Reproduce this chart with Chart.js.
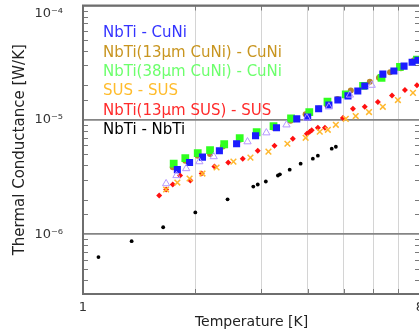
<!DOCTYPE html>
<html><head><meta charset="utf-8">
<script src="https://cdn.jsdelivr.net/npm/chart.js@4"></script>
<style>
html,body{margin:0;padding:0;overflow:hidden;background:#fff;width:419px;height:333px}
#wrap{position:relative;width:440px;height:333px}
</style></head>
<body><div id="wrap"><canvas id="c" width="440" height="333"></canvas></div>
<script>
// ---- data (Temperature [K], Thermal Conductance [W/K]) ----
const legendNames = ["NbTi - CuNi","NbTi(13\u03bcm CuNi) - CuNi","NbTi(38\u03bcm CuNi) - CuNi","SUS - SUS","NbTi(13\u03bcm SUS) - SUS","NbTi - NbTi"];
const legendColors = ["#3434ff","#c8951f","#6cff6c","#ffbc2c","#ff2a2a","#000000"];

const cuniT = [1.79,1.93,2.09,2.32,2.58,2.90,3.30,3.74,4.00,4.28,4.56,4.82,5.13,5.45,5.69,6.36,6.81,7.25,7.62,7.90];
const cuniG = [3.67e-6,4.23e-6,4.72e-6,5.37e-6,6.18e-6,7.26e-6,8.52e-6,1.02e-5,1.06e-5,1.25e-5,1.35e-5,1.49e-5,1.62e-5,1.79e-5,1.98e-5,2.51e-5,2.67e-5,2.95e-5,3.19e-5,3.32e-5];

const cuni13T = [1.74,1.88,2.03,2.19,2.37,2.63,2.92,3.24,3.60,3.95,4.29,4.51,4.81,5.22,5.87,6.21,6.65,7.11,7.71];
const cuni13G = [3.86e-6,4.40e-6,4.86e-6,5.03e-6,5.86e-6,6.70e-6,7.55e-6,8.52e-6,9.80e-6,1.12e-5,1.26e-5,1.35e-5,1.52e-5,1.81e-5,2.15e-5,2.34e-5,2.61e-5,2.83e-5,3.32e-5];

const cuni38T = [1.75,1.88,2.03,2.19,2.39,2.63,2.92,3.24,3.61,4.04,4.52,5.06,5.63,6.31,7.07,7.85];
const cuni38G = [4.14e-6,4.63e-6,5.11e-6,5.43e-6,6.12e-6,6.93e-6,7.79e-6,8.81e-6,1.03e-5,1.17e-5,1.44e-5,1.67e-5,1.98e-5,2.33e-5,2.90e-5,3.37e-5];

const susT = [1.67,1.79,1.93,2.09,2.28,2.53,2.81,3.14,3.53,3.95,4.31,4.53,4.76,5.06,5.38,5.84,6.36,6.98,7.66];
const susG = [2.46e-6,2.83e-6,3.07e-6,3.39e-6,3.83e-6,4.31e-6,4.67e-6,5.27e-6,6.18e-6,6.97e-6,7.87e-6,8.19e-6,9.05e-6,1.02e-5,1.08e-5,1.17e-5,1.30e-5,1.49e-5,1.72e-5];

const sus13T = [1.60,1.67,1.74,1.82,1.94,2.08,2.25,2.45,2.68,2.94,3.26,3.65,3.98,4.05,4.10,4.26,4.45,4.97,5.29,5.69,6.17,6.73,7.29,7.85];
const sus13G = [2.18e-6,2.46e-6,2.72e-6,3.26e-6,2.95e-6,3.39e-6,3.90e-6,4.23e-6,4.58e-6,5.37e-6,5.94e-6,6.84e-6,7.55e-6,7.87e-6,8.10e-6,8.52e-6,8.52e-6,1.04e-5,1.25e-5,1.30e-5,1.43e-5,1.63e-5,1.82e-5,2.01e-5];

const nbtiT = [1.10,1.35,1.64,2.00,2.44,2.86,2.94,3.09,3.33,3.37,3.58,3.83,4.13,4.26,4.64,4.76];
const nbtiG = [6.31e-7,8.69e-7,1.15e-6,1.55e-6,2.02e-6,2.61e-6,2.72e-6,2.89e-6,3.26e-6,3.34e-6,3.67e-6,4.14e-6,4.58e-6,4.86e-6,5.60e-6,5.82e-6];

const extraT = [1.67,1.78,1.89,2.05,2.24,2.76,3.10,3.51,3.98,4.56,5.19,5.94];
const extraG = [2.77e-6,3.26e-6,3.75e-6,4.31e-6,4.77e-6,6.44e-6,7.71e-6,9.05e-6,1.04e-5,1.30e-5,1.65e-5,2.01e-5];

const xTickLabels = [1, 8];
const yMin = 3e-7, yMax = 1e-4, xMin = 1, xMax = 8;

// ---- helpers ----
const zip = (t, g) => t.map((v, i) => ({x: v, y: g[i]}));
const isPow10 = v => { const l = Math.log10(v); return Math.abs(l - Math.round(l)) < 1e-6; };
const isInt = v => Math.abs(v - Math.round(v)) < 1e-6;
const SUP = {'0':'\u2070','1':'\u00b9','2':'\u00b2','3':'\u00b3','4':'\u2074','5':'\u2075','6':'\u2076','7':'\u2077','8':'\u2078','9':'\u2079'};
const supStr = n => '\u207b' + String(Math.abs(n)).split('').map(c => SUP[c]).join('');

const datasets = [
  {label:'extra', data: zip(extraT, extraG), pointStyle:'triangle', radius:4.2, borderColor:'#b597ff', backgroundColor:'rgba(0,0,0,0)', borderWidth:1},
  {label: legendNames[0], data: zip(cuniT, cuniG), pointStyle:'rect', radius:5, borderWidth:0, backgroundColor:'#1c1cff', borderColor:'#1c1cff'},
  {label: legendNames[2], data: zip(cuni38T, cuni38G), pointStyle:'rect', radius:5.5, borderWidth:0, backgroundColor:'#30ff20', borderColor:'#30ff20'},
  {label: legendNames[1], data: zip(cuni13T, cuni13G), pointStyle:'circle', radius:3, borderWidth:0, backgroundColor:'#b8862a', borderColor:'#b8862a'},
  {label: legendNames[3], data: zip(susT, susG), pointStyle:'crossRot', radius:4, borderWidth:1.5, backgroundColor:'#ffb82e', borderColor:'#ffb82e'},
  {label: legendNames[4], data: zip(sus13T, sus13G), pointStyle:'rectRot', radius:3, borderWidth:0, backgroundColor:'#ff1010', borderColor:'#ff1010'},
  {label: legendNames[5], data: zip(nbtiT, nbtiG), pointStyle:'circle', radius:1.9, borderWidth:0, backgroundColor:'#000', borderColor:'#000'}
];

const decor = {
  id: 'decor',
  beforeDatasetsDraw(chart) {
    const {ctx, chartArea: a, scales: {x, y}} = chart;
    ctx.save();
    ctx.strokeStyle = '#7a7a7a';
    ctx.lineWidth = 1;
    ctx.beginPath();
    y.ticks.forEach(t => {
      if (isPow10(t.value)) return;
      const py = Math.round(y.getPixelForValue(t.value)) + 0.5;
      ctx.moveTo(a.left, py); ctx.lineTo(a.left + 5, py);
      ctx.moveTo(a.right - 5, py); ctx.lineTo(a.right, py);
    });
    x.ticks.forEach(t => {
      if (!isInt(t.value) || t.value <= xMin || t.value >= xMax) return;
      const px = Math.round(x.getPixelForValue(t.value)) + 0.5;
      ctx.moveTo(px, a.bottom); ctx.lineTo(px, a.bottom - 5);
      ctx.moveTo(px, a.top); ctx.lineTo(px, a.top + 5);
    });
    ctx.stroke();
    ctx.lineWidth = 2;
    ctx.strokeStyle = '#6e6e6e';
    ctx.strokeRect(a.left, a.top, a.right - a.left, a.bottom - a.top);
    ctx.restore();
  },
  afterDraw(chart) {
    const {ctx, chartArea: a} = chart;
    ctx.save();
    ctx.font = '15px "DejaVu Sans"';
    ctx.textBaseline = 'middle';
    ctx.textAlign = 'left';
    legendNames.forEach((n, i) => {
      ctx.fillStyle = legendColors[i];
      ctx.fillText(n, a.left + 20, a.top + 28 + i * 19.3);
    });
    ctx.restore();
  }
};

new Chart(document.getElementById('c'), {
  type: 'scatter',
  data: {datasets},
  plugins: [decor],
  options: {
    responsive: false,
    animation: false,
    layout: {padding: {top: 5, right: 20, left: 0, bottom: 0}},
    plugins: {legend: {display: false}, tooltip: {enabled: false}},
    scales: {
      x: {
        type: 'logarithmic', min: xMin, max: xMax,
        afterFit(s) { s.height = 39; s.paddingLeft = 0; s.paddingRight = 0; },
        grid: {color: c => (c.tick && isInt(c.tick.value)) ? '#d4d4d4' : 'rgba(0,0,0,0)', lineWidth: 1, drawTicks: false},
        border: {color: '#6e6e6e', width: 2},
        ticks: {
          autoSkip: false, maxRotation: 0, padding: 6,
          color: '#333', font: {family: 'DejaVu Sans', size: 13},
          callback: v => (isInt(v) && xTickLabels.includes(Math.round(v))) ? String(Math.round(v)) : ''
        },
        title: {display: true, text: 'Temperature [K]', color: '#222', font: {family: 'DejaVu Sans', size: 14}, padding: {top: 0, bottom: 2.5}}
      },
      y: {
        type: 'logarithmic', min: yMin, max: yMax,
        afterFit(s) { s.width = 83; s.paddingTop = 0; s.paddingBottom = 0; },
        grid: {color: c => (c.tick && isPow10(c.tick.value)) ? '#858585' : 'rgba(0,0,0,0)', lineWidth: 1.8, drawTicks: false},
        border: {color: '#6e6e6e', width: 2},
        ticks: {
          autoSkip: false, padding: 20,
          color: '#333', font: {family: 'DejaVu Sans', size: 13},
          callback: v => {
            if (!isPow10(v)) return '';
            const e = Math.round(Math.log10(v));
            const s = '10' + supStr(e);
            return v >= yMax * 0.999 ? ['', s] : s;
          }
        },
        title: {display: true, text: 'Thermal Conductance [W/K]', color: '#222', font: {family: 'DejaVu Sans', size: 15}, padding: {top: 11, bottom: 0}}
      }
    }
  }
});
</script>
</body></html>
